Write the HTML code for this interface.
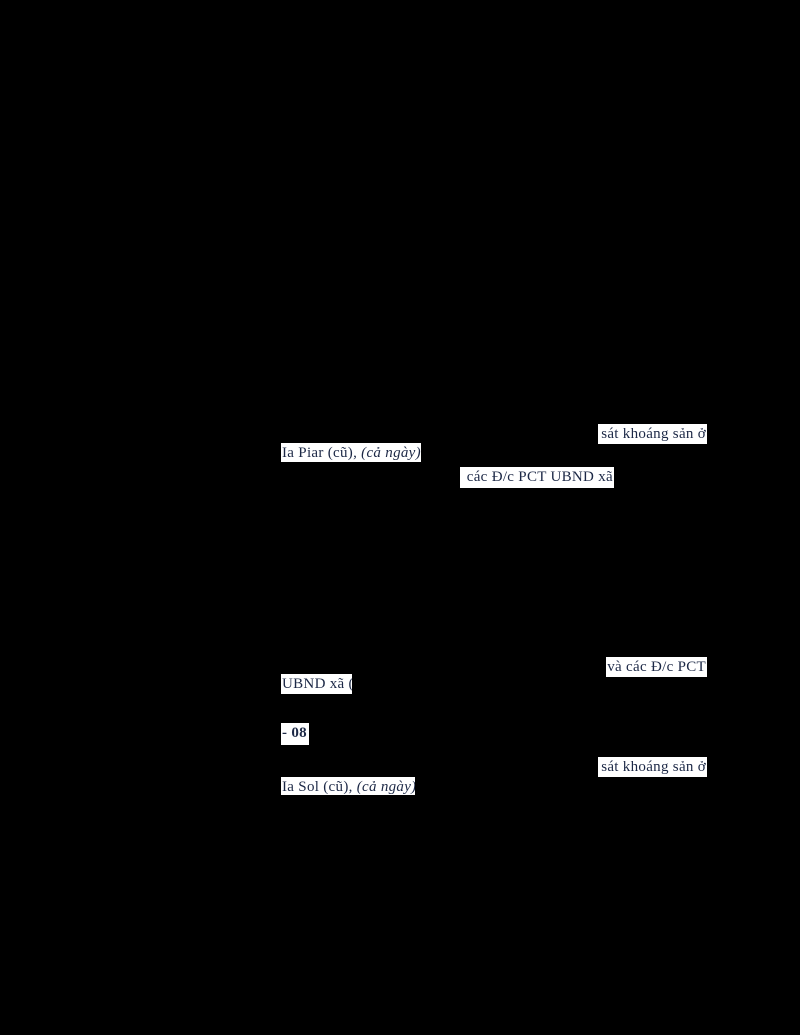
<!DOCTYPE html>
<html><head><meta charset="utf-8"><style>
html,body{margin:0;padding:0;background:#000;width:800px;height:1035px;overflow:hidden}
.b{position:absolute;background:#fff;color:#1c2846;font-family:"Liberation Serif",serif;font-size:15px;letter-spacing:0.3px;line-height:20px;white-space:nowrap;overflow:hidden;padding:0 1px}
</style></head><body>
<div class="b" style="left:598px;top:424px;width:107px;height:20px;text-align:right">sát khoáng sản ở</div>
<div class="b" style="left:281px;top:443px;width:138px;height:19px">Ia Piar (cũ), <i>(cả ngày)</i>.</div>
<div class="b" style="left:460px;top:467px;width:152px;height:21px;text-align:right">các Đ/c PCT UBND xã </div>
<div class="b" style="left:606px;top:657px;width:99px;height:20px;text-align:right">và các Đ/c PCT</div>
<div class="b" style="left:281px;top:674px;width:69px;height:20px">UBND xã (</div>
<div class="b" style="left:281px;top:723px;width:26px;height:22px;font-weight:bold">- 08</div>
<div class="b" style="left:598px;top:757px;width:107px;height:20px;text-align:right">sát khoáng sản ở</div>
<div class="b" style="left:281px;top:777px;width:132px;height:18px">Ia Sol (cũ), <i>(cả ngày)</i>.</div>
</body></html>
